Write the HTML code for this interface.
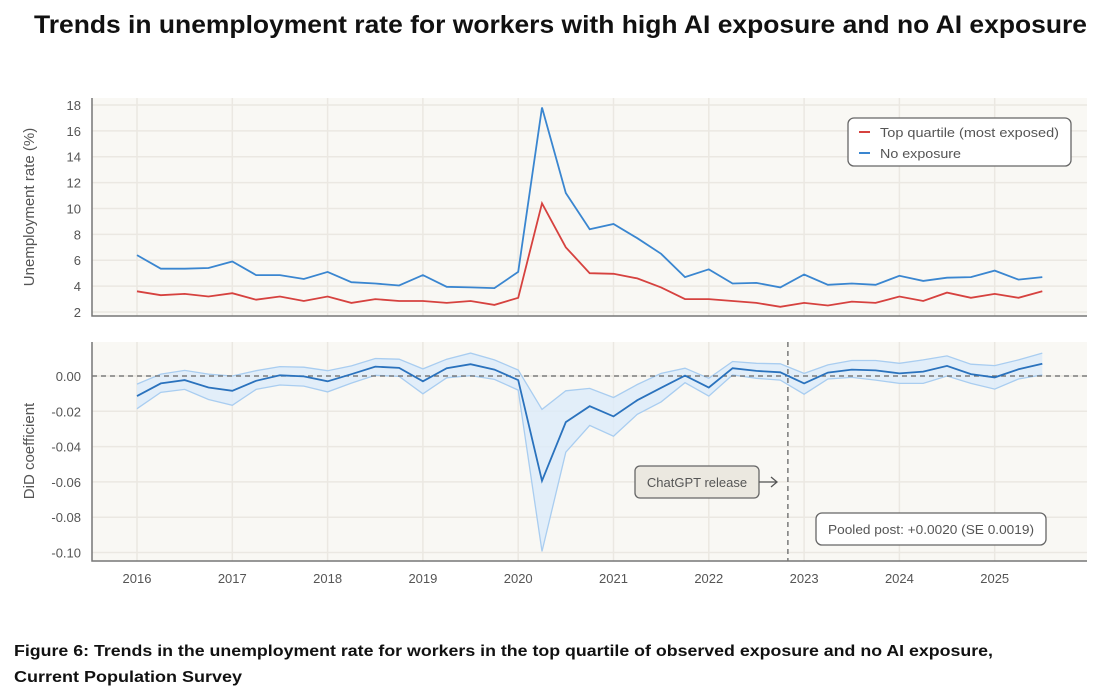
<!DOCTYPE html>
<html><head><meta charset="utf-8"><style>
body{margin:0;background:#fff;width:1112px;height:690px;overflow:hidden;font-family:"Liberation Sans",sans-serif}
</style></head><body>
<svg width="1112" height="690" id="chart" xmlns="http://www.w3.org/2000/svg" font-family="Liberation Sans, sans-serif">
<text x="34" y="33" font-size="25" font-weight="bold" fill="#111" textLength="1053" lengthAdjust="spacingAndGlyphs">Trends in unemployment rate for workers with high AI exposure and no AI exposure</text>
<rect x="92" y="98" width="995" height="218" fill="#f9f8f4"/>
<rect x="92" y="342" width="995" height="219" fill="#f9f8f4"/>
<g id="grid"></g>
<g id="marks"></g>
<g id="axes"></g>
<text transform="translate(34,207) rotate(-90)" text-anchor="middle" font-size="15" fill="#555">Unemployment rate (%)</text>
<text transform="translate(34,451) rotate(-90)" text-anchor="middle" font-size="15" fill="#555">DiD coefficient</text>
<g>
<rect x="848" y="118" width="223" height="48" rx="6" fill="#fff" stroke="#666" stroke-width="1.3"/>
<line x1="859" y1="132" x2="870" y2="132" stroke="#d6423f" stroke-width="2"/>
<text x="880" y="137" font-size="13" fill="#555" textLength="179" lengthAdjust="spacingAndGlyphs">Top quartile (most exposed)</text>
<line x1="859" y1="153" x2="870" y2="153" stroke="#3a86d0" stroke-width="2"/>
<text x="880" y="158" font-size="13" fill="#555" textLength="81" lengthAdjust="spacingAndGlyphs">No exposure</text>
</g>
<g>
<rect x="635" y="466" width="124" height="32" rx="5" fill="#ebe8e0" stroke="#666" stroke-width="1.3"/>
<text x="697" y="487" text-anchor="middle" font-size="13" fill="#555">ChatGPT release</text>
<line x1="759" y1="482" x2="777" y2="482" stroke="#555" stroke-width="1.3"/>
<path d="M771,477 L777,482 L771,487" fill="none" stroke="#555" stroke-width="1.3"/>
</g>
<g>
<rect x="816" y="513" width="230" height="32" rx="6" fill="#fff" stroke="#666" stroke-width="1.3"/>
<text x="931" y="534" text-anchor="middle" font-size="13" fill="#555" textLength="206" lengthAdjust="spacingAndGlyphs">Pooled post: +0.0020 (SE 0.0019)</text>
</g>
<text x="14" y="656" font-size="16" font-weight="bold" fill="#111" textLength="979" lengthAdjust="spacingAndGlyphs">Figure 6: Trends in the unemployment rate for workers in the top quartile of observed exposure and no AI exposure,</text>
<text x="14" y="682" font-size="16" font-weight="bold" fill="#111" textLength="228" lengthAdjust="spacingAndGlyphs">Current Population Survey</text>
</svg>
<script>
const years = [2016,2017,2018,2019,2020,2021,2022,2023,2024,2025];
const topTicks = [2,4,6,8,10,12,14,16,18];
const botTicks = [0,-0.02,-0.04,-0.06,-0.08,-0.10];
const startYear = 2016;
const topQuartile = [3.6,3.3,3.4,3.2,3.45,2.95,3.2,2.85,3.2,2.7,3.0,2.85,2.85,2.7,2.85,2.55,3.1,10.4,7.0,5.0,4.95,4.6,3.9,3.0,3.0,2.85,2.7,2.4,2.7,2.5,2.8,2.7,3.2,2.85,3.5,3.1,3.4,3.1,3.6];
const noExposure = [6.4,5.35,5.35,5.4,5.9,4.85,4.85,4.55,5.1,4.3,4.2,4.05,4.85,3.95,3.9,3.85,5.1,17.8,11.2,8.4,8.8,7.7,6.5,4.7,5.3,4.2,4.25,3.9,4.9,4.1,4.2,4.1,4.8,4.4,4.65,4.7,5.2,4.5,4.7];
const did = [-0.0114,-0.0042,-0.0023,-0.0065,-0.0084,-0.0027,0.0004,-0.0002,-0.0030,0.0010,0.0053,0.0046,-0.0030,0.0044,0.0067,0.0036,-0.0023,-0.0594,-0.0261,-0.0171,-0.0229,-0.0137,-0.0067,0.0002,-0.0065,0.0044,0.0029,0.0021,-0.0042,0.0019,0.0036,0.0032,0.0015,0.0025,0.0057,0.0011,-0.0008,0.0038,0.0069];
const didUpper = [-0.0046,0.0011,0.0032,0.0011,0,0.0030,0.0053,0.0050,0.0030,0.0057,0.0099,0.0095,0.0040,0.0095,0.0130,0.0091,0.0034,-0.0189,-0.0084,-0.0070,-0.0122,-0.0048,0.0015,0.0044,-0.0013,0.0082,0.0072,0.0069,0.0015,0.0063,0.0088,0.0088,0.0072,0.0091,0.0114,0.0067,0.0059,0.0091,0.0130];
const didLower = [-0.0185,-0.0093,-0.0076,-0.0133,-0.0166,-0.0076,-0.0051,-0.0057,-0.0090,-0.0040,0.0004,-0.0002,-0.0101,-0.0010,0.0002,-0.0019,-0.0080,-0.0994,-0.0432,-0.0280,-0.0341,-0.0217,-0.0147,-0.0038,-0.0114,0.0006,-0.0013,-0.0023,-0.0103,-0.0017,-0.0008,-0.0023,-0.0042,-0.0042,0,-0.0042,-0.0074,-0.0017,0.0006];
const releaseDate = 2022.83;

const NS='http://www.w3.org/2000/svg';
const X = t => 137 + (t-2016)*95.3;
const YT = v => 312 - (v-2)*12.94;
const YB = v => 376 - v*1765;
const tOf = i => startYear + i*0.25;
function el(tag, attrs, parent){const e=document.createElementNS(NS,tag);for(const k in attrs)e.setAttribute(k,attrs[k]);parent.appendChild(e);return e;}
const grid=document.getElementById('grid'), marks=document.getElementById('marks'), axes=document.getElementById('axes');

years.forEach(y=>{
  let g=el('line',{x1:X(y),x2:X(y),y1:98,y2:316,stroke:'#ebe8e2','stroke-width':1.5},grid);
   
  g=el('line',{x1:X(y),x2:X(y),y1:342,y2:561,stroke:'#ebe8e2','stroke-width':1.5},grid);
   
  const t=el('text',{x:X(y),y:583,'text-anchor':'middle','font-size':13,fill:'#555'},axes);
  t.textContent=y;
   
});
topTicks.forEach(v=>{
  const g=el('line',{x1:92,x2:1087,y1:YT(v),y2:YT(v),stroke:'#ebe8e2','stroke-width':1.5},grid);
   
  const t=el('text',{x:81,y:YT(v)+5,'text-anchor':'end','font-size':13,fill:'#555'},axes);
  t.textContent=v;
   
});
botTicks.forEach(v=>{
  const g=el('line',{x1:92,x2:1087,y1:YB(v),y2:YB(v),stroke:'#ebe8e2','stroke-width':1.5},grid);
   
  const t=el('text',{x:81,y:YB(v)+5,'text-anchor':'end','font-size':13,fill:'#555'},axes);
  t.textContent=v.toFixed(2);
   
});

let a=el('path',{d:'M92,98 V316 H1087',fill:'none',stroke:'#777','stroke-width':1.5},axes);
 
a=el('path',{d:'M92,342 V561 H1087',fill:'none',stroke:'#777','stroke-width':1.5},axes);
 

function poly(arr, yf){return arr.map((v,i)=>X(tOf(i)).toFixed(1)+','+yf(v).toFixed(1)).join(' ');}
let p=el('polyline',{points:poly(noExposure,YT),fill:'none',stroke:'#3a86d0','stroke-width':1.8},marks);
 
p=el('polyline',{points:poly(topQuartile,YT),fill:'none',stroke:'#d6423f','stroke-width':1.8},marks);
 

const up=didUpper.map((v,i)=>X(tOf(i)).toFixed(1)+','+YB(v).toFixed(1));
const lo=didLower.map((v,i)=>X(tOf(i)).toFixed(1)+','+YB(v).toFixed(1)).reverse();
p=el('polygon',{points:up.concat(lo).join(' '),fill:'#dcebfa','fill-opacity':0.8},marks);
 
p=el('polyline',{points:poly(didUpper,YB),fill:'none',stroke:'#a9cdf0','stroke-width':1.3},marks);
 
p=el('polyline',{points:poly(didLower,YB),fill:'none',stroke:'#a9cdf0','stroke-width':1.3},marks);
 
p=el('line',{x1:92,x2:1087,y1:YB(0),y2:YB(0),stroke:'#666','stroke-width':1.3,'stroke-dasharray':'5,4'},marks);
 
p=el('polyline',{points:poly(did,YB),fill:'none',stroke:'#2a72bd','stroke-width':1.8},marks);
 
p=el('line',{x1:X(releaseDate),x2:X(releaseDate),y1:342,y2:561,stroke:'#666','stroke-width':1.3,'stroke-dasharray':'5,4'},marks);
 
</script>
</body></html>
